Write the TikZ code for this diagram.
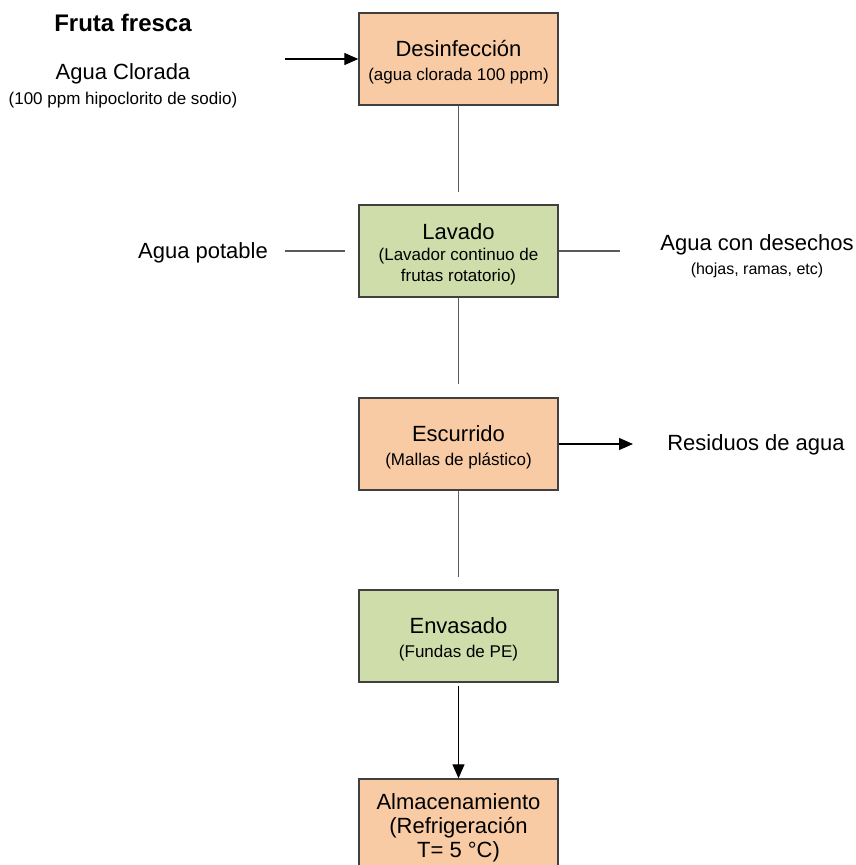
\documentclass[tikz,border=0pt]{standalone}
\usepackage{fontspec}
\setmainfont{Liberation Sans}
\usetikzlibrary{arrows.meta}
\definecolor{peach}{RGB}{248,203,165}
\definecolor{sage}{RGB}{207,221,171}
\definecolor{boxedge}{RGB}{64,64,64}
\definecolor{linkgray}{RGB}{90,90,90}
\newcommand\txtL{\fontsize{22}{24}\selectfont}
\newcommand\txtS{\fontsize{17}{24}\selectfont}
\newcommand\txtLl{\fontsize{22}{21}\selectfont}
\newcommand\txtSl{\fontsize{17}{21}\selectfont}
\newcommand\topstrut{\rule{0pt}{22pt}}
\begin{document}
\begin{tikzpicture}[x={(1pt,0pt)}, y={(0pt,-1pt)},
  procbox/.style={draw=boxedge, line width=1.4pt, minimum width=199pt, minimum height=92pt, inner sep=0pt, align=center, font=\txtL},
  orangebox/.style={procbox, fill=peach},
  greenbox/.style={procbox, fill=sage},
  link/.style={draw=linkgray, line width=1.5pt},
  flow/.style={draw=black, line width=1.3pt, -{Triangle[length=14pt,width=12pt]}},
  lbl/.style={inner sep=0pt, align=center, anchor=base}]
\useasboundingbox[fill=white] (0,0) rectangle (856,865);
\clip (0,0) rectangle (856,865);

% process boxes
\node[orangebox] (des) at (458.5,59) {\topstrut Desinfección\\\txtS (agua clorada 100 ppm)};
\node[greenbox, font=\txtLl] (lav) at (458.5,251) {\topstrut Lavado\\\txtSl (Lavador continuo de\\\txtSl frutas rotatorio)};
\node[orangebox] (esc) at (458.5,444) {\topstrut Escurrido\\\txtS (Mallas de plástico)};
\node[greenbox] (env) at (458.5,636) {\topstrut Envasado\\\txtS (Fundas de PE)};
\node[orangebox] (alm) at (458.5,825) {\topstrut Almacenamiento\\(Refrigeración\\T= 5 °C)};

% main flow
\draw[link, shorten >=12pt] (des) -- (lav);
\draw[link, shorten >=13pt] (lav) -- (esc);
\draw[link, shorten >=12pt] (esc) -- (env);
\draw[flow, shorten <=3pt] (env) -- (alm);

% side streams
\coordinate (clin) at (285,59);
\draw[flow] (clin) -- (des.west);
\coordinate (potin) at (285,251);
\draw[link, shorten >=13pt] (potin) -- (lav.west);
\coordinate (wasteout) at (620,251);
\draw[link] (lav.east) -- (wasteout);
\coordinate (resout) at (633,444);
\draw[flow] (esc.east) -- (resout);

% free labels
\node[lbl, font=\bfseries\fontsize{24}{28}\selectfont] (fruta) at (123,31) {Fruta fresca};
\node[lbl, font=\txtL] (clor) at (123,79) {Agua Clorada};
\node[lbl, font=\txtS] (hipo) at (123,104) {(100 ppm hipoclorito de sodio)};
\node[lbl, font=\txtL] (pot) at (203,258) {Agua potable};
\node[lbl, font=\txtL] (desech) at (757,250) {Agua con desechos};
\node[lbl, font=\fontsize{16}{20}\selectfont] (hojas) at (757,274) {(hojas, ramas, etc)};
\node[lbl, font=\txtL] (res) at (756,450) {Residuos de agua};
\end{tikzpicture}
\end{document}
